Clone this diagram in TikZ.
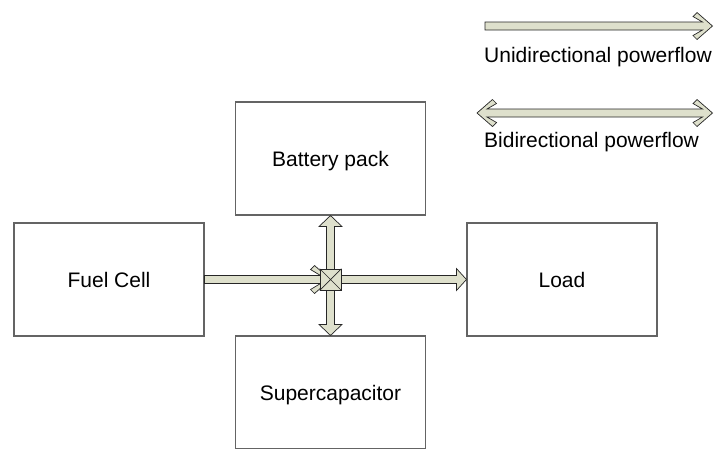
\documentclass[tikz,border=0pt]{standalone}
\usepackage{fontspec}
\setmainfont{Liberation Sans}
\usetikzlibrary{calc}
\definecolor{pwfill}{RGB}{222,224,204}
\definecolor{boxline}{RGB}{100,100,100}
\begin{document}
\begin{tikzpicture}[x=1pt,y=-1pt,
  blk/.style={draw=boxline, line width=1.1pt, minimum width=190pt, minimum height=113pt,
    inner sep=0pt, text height=15pt, text depth=0pt, font=\fontsize{21}{25}\selectfont},
  pw/.style={draw=black!85, fill=pwfill, line width=0.7pt, line join=miter},
  pwline/.style={draw=black!85, line width=0.7pt},
  lbl/.style={anchor=base west, inner sep=0pt, font=\fontsize{21}{25}\selectfont}]
\useasboundingbox (0,0) rectangle (715,448);

% blocks
\node[blk] (bat)  at (330.5,158.5) {Battery pack};
\node[blk] (fc)   at (109,279.5)   {Fuel Cell};
\node[blk] (load) at (562,279.5)   {Load};
\node[blk] (sup)  at (330.5,392.5) {Supercapacitor};
\coordinate (c) at (bat.south |- fc.east);

% fuel cell -> centre (chevron head)
\draw[pw] let \p1=(fc.east), \p2=(c) in
  (\x1,\y1+4pt) -- (\x2-10pt,\y1+4pt) -- (\x2-20pt,\y1+10pt) -- (\x2-16pt,\y1+14pt)
  -- (\x2,\y1) -- (\x2-16pt,\y1-14pt) -- (\x2-20pt,\y1-10pt) -- (\x2-10pt,\y1-4pt)
  -- (\x1,\y1-4pt) -- cycle;

% centre -> load
\draw[pw] let \p1=(c), \p2=(load.west) in
  (\x1,\y1+4pt) -- (\x2-10pt,\y1+4pt) -- (\x2-10pt,\y1+11pt) -- (\x2,\y1)
  -- (\x2-10pt,\y1-11pt) -- (\x2-10pt,\y1-4pt) -- (\x1,\y1-4pt) -- cycle;

% battery <-> supercapacitor
\draw[pw] let \p1=(bat.south), \p2=(sup.north) in
  (\x1,\y1) -- (\x1+11.5pt,\y1-11pt) -- (\x1+4pt,\y1-11pt) -- (\x1+4pt,\y2+11pt)
  -- (\x1+11.5pt,\y2+11pt) -- (\x1,\y2) -- (\x1-11.5pt,\y2+11pt) -- (\x1-4pt,\y2+11pt)
  -- (\x1-4pt,\y1-11pt) -- (\x1-11.5pt,\y1-11pt) -- cycle;

% crossing
\node[pw, minimum size=21pt, inner sep=0pt] (x) at (c) {};
\draw[pwline] (x.north west) -- (x.south east) (x.north east) -- (x.south west);

% legend
\coordinate (u1) at (485,26);
\coordinate (u2) at (712.5,26);
\draw[pw] let \p1=(u1), \p2=(u2) in
  (\x1,\y1+4pt) -- (\x2-10pt,\y1+4pt) -- (\x2-19.5pt,\y1+9.5pt) -- (\x2-15.5pt,\y1+13.5pt)
  -- (\x2,\y1) -- (\x2-15.5pt,\y1-13.5pt) -- (\x2-19.5pt,\y1-9.5pt) -- (\x2-10pt,\y1-4pt)
  -- (\x1,\y1-4pt) -- cycle;
\node[lbl] (ut) at (484,62.5) {Unidirectional powerflow};

\coordinate (b1) at (477,113);
\coordinate (b2) at (712.5,113);
\draw[pw] let \p1=(b1), \p2=(b2) in
  (\x1,\y1) -- (\x1+15.5pt,\y1+13.5pt) -- (\x1+19.5pt,\y1+9.5pt) -- (\x1+10pt,\y1+4pt)
  -- (\x2-10pt,\y1+4pt) -- (\x2-19.5pt,\y1+9.5pt) -- (\x2-15.5pt,\y1+13.5pt)
  -- (\x2,\y1) -- (\x2-15.5pt,\y1-13.5pt) -- (\x2-19.5pt,\y1-9.5pt) -- (\x2-10pt,\y1-4pt)
  -- (\x1+10pt,\y1-4pt) -- (\x1+19.5pt,\y1-9.5pt) -- (\x1+15.5pt,\y1-13.5pt) -- cycle;
\node[lbl] (bt) at (484,147) {Bidirectional powerflow};
\end{tikzpicture}
\end{document}
